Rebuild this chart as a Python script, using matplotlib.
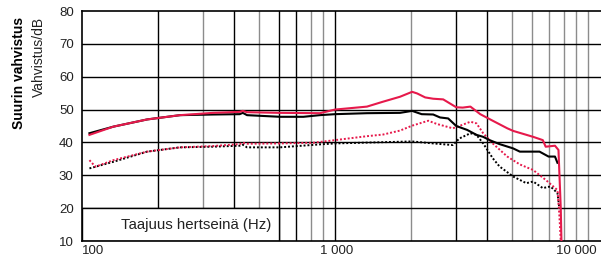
import matplotlib
matplotlib.use("Agg")
import matplotlib.pyplot as plt
from matplotlib.patches import Rectangle
from matplotlib.transforms import blended_transform_factory, offset_copy

plt.rcParams["font.family"] = ["Liberation Sans", "DejaVu Sans"]

# curves (Hz, dB)
red_solid_f = [107, 133, 181, 244, 330, 420, 432, 449, 606, 872, 1000, 1337, 1548, 1806,
               2017, 2112, 2271, 2443, 2676, 3014, 3197, 3428, 3749, 4200, 4794, 5063,
               6068, 6625, 6800, 7400, 7640, 7800, 7850]
red_solid_db = [42.3, 44.8, 47.0, 48.3, 49.0, 49.3, 49.6, 49.2, 49.0, 48.9, 50.0, 50.9, 52.4, 53.9,
                55.4, 54.9, 53.7, 53.3, 53.1, 50.7, 50.6, 50.9, 48.6, 46.6, 44.3, 43.5,
                41.7, 40.7, 38.7, 39.0, 37.7, 20.0, 10.0]

black_solid_f = [107, 133, 181, 244, 330, 420, 432, 449, 606, 750, 870, 1000, 1337, 1806,
                 2017, 2200, 2443, 2600, 2800, 3014, 3330, 3623, 3850, 4083, 4465, 5050,
                 5375, 5880, 6430, 6980, 7400, 7570]
black_solid_db = [42.8, 44.8, 47.0, 48.3, 48.5, 48.6, 49.0, 48.3, 47.8, 47.8, 48.3, 48.6, 48.9, 49.0,
                  49.6, 48.6, 48.5, 47.6, 47.3, 45.0, 43.8, 42.3, 41.7, 40.7, 39.5, 38.2,
                  37.2, 37.2, 37.2, 35.7, 35.7, 33.8]

red_dot_f = [107, 113, 133, 181, 244, 330, 420, 432, 449, 606, 819, 1000, 1337, 1548, 1806,
             2017, 2336, 2530, 2920, 3100, 3428, 3623, 3850, 4200, 4794, 5375, 6068,
             6800, 7570, 7700, 7800]
red_dot_db = [34.6, 32.6, 34.6, 37.2, 38.5, 38.9, 39.5, 39.9, 39.6, 39.7, 39.9, 40.7, 41.9, 42.4, 43.6,
              45.1, 46.6, 45.6, 44.3, 45.0, 46.3, 45.8, 42.8, 39.7, 35.7, 33.3, 31.6,
              28.6, 25.5, 18.0, 10.0]

black_dot_f = [107, 133, 181, 244, 330, 420, 432, 449, 606, 870, 1000, 2017, 2443, 2920,
               3100, 3428, 3623, 3850, 4200, 4465, 5063, 5700, 6068, 6625, 7100, 7570, 7700]
black_dot_db = [32.1, 34.1, 37.2, 38.5, 38.7, 39.0, 39.3, 38.5, 38.5, 39.4, 39.7, 40.3, 39.7, 39.2,
                41.2, 42.8, 42.3, 39.7, 35.2, 32.7, 29.6, 27.6, 28.1, 26.1, 26.6, 24.6, 20.0]

y_ticks = [10, 20, 30, 40, 50, 60, 70, 80]
x_ticks = [100, 1000, 10000]
x_ticklabels = ["100", "1 000", "10 000"]
grid_f = [200, 300, 400, 500, 600, 700, 800, 900, 1000, 2000, 3000, 4000, 5000,
          6000, 7000, 8000, 9000, 10000]
dark_grid = {200, 400, 600, 700, 1000, 3000, 4000}

RED = "#e6194b"
INK = "#222222"

fig = plt.figure(figsize=(6.01, 2.57), dpi=100)
ax = fig.add_axes([82/601, 16/257, 519/601, 230/257])
ax.set_xscale("log")
ax.set_xlim(100, 11250)
ax.set_ylim(10, 80)

for f in grid_f:
    ax.axvline(f, color="black" if f in dark_grid else "#8c8c8c", lw=1.0, zorder=1)
for y in y_ticks[1:-1]:
    ax.axhline(y, color="black", lw=1.0, zorder=1)

# label box in the lower left corner
ax.add_patch(Rectangle((100, 10), 500, 10, facecolor="white", edgecolor="black",
                       lw=1.0, zorder=2))
ax.text(558, 15, "Taajuus hertseinä (Hz)", ha="right", va="center", fontsize=10.8,
        color=INK, zorder=3)

ax.plot(black_dot_f, black_dot_db, color="black", lw=1.4, ls=(0, (1, 1)), zorder=4)
ax.plot(red_dot_f, red_dot_db, color=RED, lw=1.4, ls=(0, (1, 1)), zorder=4)
ax.plot(black_solid_f, black_solid_db, color="black", lw=1.5, zorder=5)
ax.plot(red_solid_f, red_solid_db, color=RED, lw=1.5, zorder=6)

ax.set_yticks(y_ticks)
ax.set_xticks([])
ax.minorticks_off()
ax.tick_params(length=0, labelsize=9.5, pad=6, colors=INK)
for s in ["left", "bottom", "top"]:
    ax.spines[s].set_linewidth(1.2)
ax.spines["right"].set_visible(False)

# x labels placed by hand so the outer ones stay inside the figure
tr = blended_transform_factory(ax.transData, ax.transAxes)
aligns = ["left", "center", "right"]
shifts = [0, 2, 9]
for f, lab, ha, dx in zip(x_ticks, x_ticklabels, aligns, shifts):
    ax.text(f, 0, lab, ha=ha, va="top", fontsize=9.5, color=INK,
            transform=offset_copy(tr, fig=fig, x=dx, y=-4, units="dots"))

fig.text(19/601, 1 - 17/257, "Suurin vahvistus", rotation=90, ha="center", va="top",
         fontsize=10, fontweight="bold")
fig.text(39/601, 1 - 17/257, "Vahvistus/dB", rotation=90, ha="center", va="top",
         fontsize=10, color=INK)

fig.savefig("out.png", dpi=100)
